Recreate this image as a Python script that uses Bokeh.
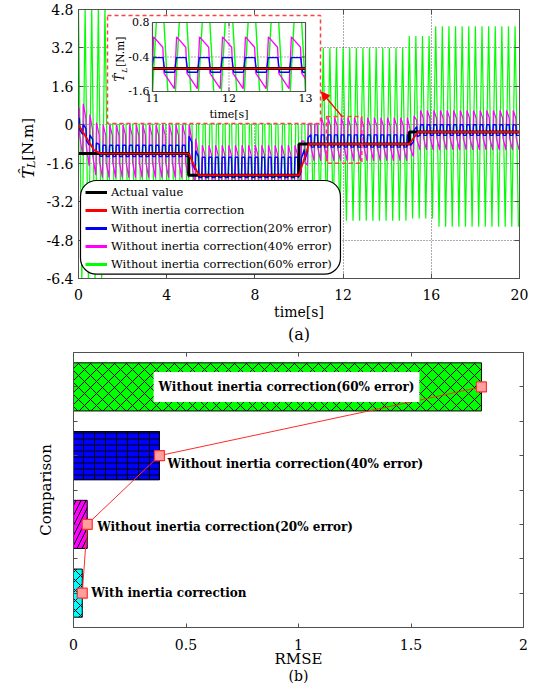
import numpy as np
from bokeh.plotting import figure
from bokeh.layouts import column, row
from bokeh.models import (Range1d, FixedTicker, LinearAxis, CustomJSTickFormatter,
                          Legend, LegendItem, BoxAnnotation, Label, Arrow, NormalHead, Title)
from bokeh.core.properties import value
from bokeh.embed import file_html
from bokeh.resources import INLINE

SERIF = "DejaVu Serif"
AXIS_GREY = "#505050"

# ---------------- load torque test: 20 s run, load stepped every 5 s ----------------
step_times = [0.0, 5.0, 10.0, 15.0, 20.0]
actual_torque = [-1.2, -2.1, -0.8, -0.3]
ripple_period = 0.3

# observer with inertia correction (follows each step with a short lag)
corrected_t = [0.0, 0.7, 1.0, 5.0, 5.45, 10.0, 10.45, 15.0, 15.4, 20.0]
corrected_v = [0.0, -1.05, -1.2, -1.2, -2.1, -2.1, -0.8, -0.8, -0.3, -0.3]

# observers without correction: upper / lower ripple plateaus per load interval
err20_high = [-0.85, -1.35, -0.42, 0.0]
err20_low = [-1.32, -2.2, -0.93, -0.44]
err40_high = [0.0, -0.85, 0.3, 0.6]
err40_low = [-2.2, -2.9, -1.5, -1.05]
err60_times = [0.0, 1.3, 5.0, 10.0, 15.0, 16.2, 20.0]
err60_high = [4.9, 3.0, 2.6, 3.2, 3.7, 4.1]
err60_low = [-6.6, -5.0, -5.6, -4.0, -3.9, -4.25]

# ---------------- RMSE comparison ----------------
methods = ["With inertia correction",
           "Without inertia correction(20% error)",
           "Without inertia correction(40% error)",
           "Without inertia correction(60% error)"]
rmse = [0.039, 0.061, 0.382, 1.813]
bar_pos = [1, 2, 3, 4]

# ripple shape within one period: (fraction of period, position between low and high plateau)
shape_20 = [(0.04, 1.0), (0.46, 1.0), (0.54, 0.0), (0.96, 0.0)]
shape_40 = [(0.05, 1.0), (0.45, 0.8), (0.50, 0.3), (0.95, 0.0)]
shape_60 = [(0.0, 1.0), (0.5, 0.0)]


def ripple_trace(shape, high, low, edges, phase, follow_observer):
    ts, vs = [], []
    n0 = int(np.floor(-phase / ripple_period)) - 1
    n1 = int(np.ceil((20.0 - phase) / ripple_period)) + 1
    for k in range(n0, n1):
        t0 = phase + k * ripple_period
        for frac, w in shape:
            t = t0 + frac * ripple_period
            if t < 0 or t > 20.0:
                continue
            s = min(int(np.searchsorted(edges, t, side="right")) - 1, len(high) - 1)
            v = low[s] + w * (high[s] - low[s])
            if follow_observer:
                v += np.interp(t, corrected_t, corrected_v) - actual_torque[s]
            ts.append(t)
            vs.append(v)
    return np.array(ts), np.array(vs)


def clip_polyline(xs, ys, x0, x1, y0, y1):
    """Cut a polyline to a rectangle, breaking it with NaNs where it leaves."""
    ox, oy = [], []
    for i in range(len(xs) - 1):
        ax, ay, bx, by = xs[i], ys[i], xs[i + 1], ys[i + 1]
        dx, dy = bx - ax, by - ay
        lo, hi = 0.0, 1.0
        keep = True
        for p, q in ((-dx, ax - x0), (dx, x1 - ax), (-dy, ay - y0), (dy, y1 - ay)):
            if p == 0:
                if q < 0:
                    keep = False
                    break
                continue
            r = q / p
            if p < 0:
                lo = max(lo, r)
            else:
                hi = min(hi, r)
        if not keep or lo > hi:
            if ox and not np.isnan(ox[-1]):
                ox.append(np.nan)
                oy.append(np.nan)
            continue
        sx, sy = ax + lo * dx, ay + lo * dy
        ex, ey = ax + hi * dx, ay + hi * dy
        if not ox or np.isnan(ox[-1]) or abs(ox[-1] - sx) > 1e-9 or abs(oy[-1] - sy) > 1e-9:
            if ox and not np.isnan(ox[-1]):
                ox.append(np.nan)
                oy.append(np.nan)
            ox.append(sx)
            oy.append(sy)
        ox.append(ex)
        oy.append(ey)
    return np.array(ox), np.array(oy)


act_t = np.repeat(step_times, 2)[1:-1]
act_v = np.repeat(actual_torque, 2)
t20, v20 = ripple_trace(shape_20, err20_high, err20_low, step_times, 0.2, True)
t40, v40 = ripple_trace(shape_40, err40_high, err40_low, step_times, 0.2, True)
t60, v60 = ripple_trace(shape_60, err60_high, err60_low, err60_times, 0.3, False)

BLACK, RED, BLUE, MAGENTA, GREEN = "#000000", "#ff0000", "#0000ff", "#ff00ff", "#00ff00"


def style_axis(ax, ticker, size, standoff, fmt, tick_len):
    ax.ticker = ticker
    ax.formatter = fmt
    ax.axis_line_color = AXIS_GREY
    ax.major_tick_line_color = AXIS_GREY
    ax.major_tick_in = tick_len
    ax.major_tick_out = 0
    ax.minor_tick_line_color = None
    ax.major_label_text_font = SERIF
    ax.major_label_text_font_size = size
    ax.major_label_text_color = "black"
    ax.major_label_standoff = standoff
    ax.axis_label_text_font = SERIF
    ax.axis_label_text_font_style = "normal"
    ax.axis_label_text_color = "black"


def mirror_axis(fig, ticker, side, tick_len):
    ax = LinearAxis(ticker=ticker, formatter=CustomJSTickFormatter(code="return ''"),
                    axis_line_color=AXIS_GREY, major_tick_line_color=AXIS_GREY,
                    major_tick_in=tick_len, major_tick_out=0, minor_tick_line_color=None,
                    major_label_standoff=0, major_label_text_font_size="0px")
    fig.add_layout(ax, side)


# ================= (a) estimated load torque =================
LAB_W = 40
TOP_H = 345
torque_range = Range1d(-6.4, 4.8)
top = figure(width=537 - LAB_W, height=TOP_H, x_range=Range1d(0, 20), y_range=torque_range,
             output_backend="svg", toolbar_location=None,
             min_border_left=78 - LAB_W, min_border_right=18, min_border_top=9,
             min_border_bottom=67, background_fill_color="white", border_fill_color="white")
top.outline_line_color = AXIS_GREY
xt = FixedTicker(ticks=[0, 4, 8, 12, 16, 20])
yt = FixedTicker(ticks=[-6.4, -4.8, -3.2, -1.6, 0, 1.6, 3.2, 4.8])
style_axis(top.xaxis[0], xt, "14px", 10, CustomJSTickFormatter(code="return String(tick)"), 5)
style_axis(top.yaxis[0], yt, "14px", 5,
           CustomJSTickFormatter(code="return tick == 0 ? '0' : tick.toFixed(1)"), 5)
top.xaxis[0].axis_label = "time[s]"
top.xaxis[0].axis_label_text_font_size = "14px"
top.xaxis[0].axis_label_standoff = 1
mirror_axis(top, xt, "above", 5)
mirror_axis(top, yt, "right", 5)
for g, tk in ((top.xgrid[0], xt), (top.ygrid[0], yt)):
    g.ticker = tk
    g.grid_line_color = "#303030"
    g.grid_line_dash = "1 2"
    g.grid_line_alpha = 0.8

top.line(t60, v60, line_color=GREEN, line_width=1.2)
top.line(t40, v40, line_color=MAGENTA, line_width=1.2)
top.line(t20, v20, line_color=BLUE, line_width=1.4)
top.line(act_t, act_v, line_color=BLACK, line_width=3)
top.line(corrected_t, corrected_v, line_color=RED, line_width=1.8)

# region magnified in the inset
DASH_RED = "#ff4040"
top.quad(left=11.25, right=12.85, bottom=-1.6, top=0.35, fill_color=None,
         line_color=DASH_RED, line_dash="4 3", line_width=1.5)
# inset panel background
top.quad(left=1.315, right=10.975, bottom=0.055, top=4.55, fill_color="white",
         line_color=DASH_RED, line_dash="4 3", line_width=1.5)

ins_x = (11.0, 13.0)
ins_y = (-1.6, 0.8)
inset = top.subplot(x_source=Range1d(*ins_x), y_source=Range1d(*ins_y),
                    x_target=Range1d(3.356, 10.295), y_target=Range1d(1.386, 4.259))
ins_xticks = [11, 12, 13]
ins_yticks = [-1.6, -0.4, 0.8]
inset.segment(x0=[12], y0=[ins_y[0]], x1=[12], y1=[ins_y[1]], line_color="#303030",
              line_dash="1 2", line_alpha=0.8)
inset.segment(x0=[ins_x[0]], y0=[-0.4], x1=[ins_x[1]], y1=[-0.4], line_color="#303030",
              line_dash="1 2", line_alpha=0.8)
for (tt, vv, col, lw) in ((t60, v60, GREEN, 1.4), (t40, v40, MAGENTA, 1.3),
                          (t20, v20, BLUE, 1.3), (act_t, act_v, BLACK, 3.0),
                          (np.array(corrected_t), np.array(corrected_v), RED, 1.6)):
    cx, cy = clip_polyline(tt, vv, ins_x[0], ins_x[1], ins_y[0], ins_y[1])
    inset.line(cx, cy, line_color=col, line_width=lw)
inset.quad(left=[ins_x[0]], right=[ins_x[1]], bottom=[ins_y[0]], top=[ins_y[1]],
           fill_color=None, line_color=AXIS_GREY, line_width=1.2)
inset.ray(x=ins_xticks, y=[ins_y[0]] * 3, length=4, length_units="screen", angle=np.pi / 2,
          line_color=AXIS_GREY)
inset.ray(x=ins_xticks, y=[ins_y[1]] * 3, length=4, length_units="screen", angle=-np.pi / 2,
          line_color=AXIS_GREY)
inset.ray(x=[ins_x[0]] * 3, y=ins_yticks, length=4, length_units="screen", angle=0,
          line_color=AXIS_GREY)
inset.ray(x=[ins_x[1]] * 3, y=ins_yticks, length=4, length_units="screen", angle=np.pi,
          line_color=AXIS_GREY)
inset.text(x=[ins_x[0]] * 3, y=ins_yticks, text=[f"{v:.1f}" for v in ins_yticks],
           x_offset=-3, text_align="right", text_baseline="middle",
           text_font=value(SERIF), text_font_size="11px", text_color="black")
inset.text(x=ins_xticks, y=[ins_y[0]] * 3, text=[str(v) for v in ins_xticks],
           y_offset=3, text_align="center", text_baseline="top",
           text_font=value(SERIF), text_font_size="11px", text_color="black")
inset.text(x=[12], y=[ins_y[0]], text=["time[s]"], y_offset=17, text_align="center",
           text_baseline="top", text_font=value(SERIF), text_font_size="11px",
           text_color="black")
inset.text(x=[ins_x[0]], y=[-1.25], text=["T\u0302"], x_offset=-32, angle=np.pi / 2,
           text_align="left", text_baseline="middle", text_font=value(SERIF),
           text_font_style="italic", text_font_size="12px", text_color="black")
inset.text(x=[ins_x[0]], y=[-0.95], text=["L"], x_offset=-28, angle=np.pi / 2,
           text_align="left", text_baseline="middle", text_font=value(SERIF),
           text_font_style="italic", text_font_size="8px", text_color="black")
inset.text(x=[ins_x[0]], y=[-0.74], text=["[N.m]"], x_offset=-32, angle=np.pi / 2,
           text_align="left", text_baseline="middle", text_font=value(SERIF),
           text_font_size="10.5px", text_color="black")

top.add_layout(Arrow(end=NormalHead(size=8, fill_color=RED, line_color=RED),
                     x_start=11.95, y_start=0.35, x_end=11.02, y_end=1.36,
                     line_color=RED, line_width=1.5))

# rounded legend frame
top.add_layout(BoxAnnotation(left=0.09, right=11.88, top=-2.32, bottom=-6.22,
                             fill_color="white", fill_alpha=1.0, line_color="black",
                             line_width=1.2, line_alpha=1.0, line_dash="solid",
                             border_radius=16))
legend_colors = [BLACK, RED, BLUE, MAGENTA, GREEN]
legend_labels = ["Actual value"] + methods
items = []
for lab, col in zip(legend_labels, legend_colors):
    r = top.line(x=[np.nan], y=[np.nan], line_color=col, line_width=3)
    items.append(LegendItem(label=lab, renderers=[r]))
leg = Legend(items=items, location=(7, 6), padding=0, spacing=2, glyph_width=22,
             glyph_height=16, label_height=16, label_standoff=4,
             label_text_font=SERIF, label_text_font_size="11.5px", label_text_color="black",
             border_line_color=None, background_fill_alpha=0.0, margin=0)
top.add_layout(leg, "center")
top.add_layout(Title(text="(a)", align="center", text_font=SERIF, text_font_size="16px",
                     text_font_style="normal", text_color="black", standoff=0), "below")

# rotated axis title T-hat_L [N.m] in its own narrow panel, same vertical scale as (a)
ylab = figure(width=LAB_W, height=TOP_H, x_range=Range1d(0, LAB_W), y_range=torque_range,
              output_backend="svg", toolbar_location=None,
              min_border_left=0, min_border_right=0, min_border_top=9, min_border_bottom=67,
              x_axis_location=None, y_axis_location=None,
              background_fill_color="white", border_fill_color="white")
ylab.outline_line_color = None
ylab.grid.visible = False
ylab.text(x=[27], y=[-2.24], text=["T\u0302"], angle=np.pi / 2, text_align="left",
          text_baseline="middle", text_font=value(SERIF), text_font_style="italic",
          text_font_size="17px", text_color="black")
ylab.text(x=[31], y=[-1.80], text=["L"], angle=np.pi / 2, text_align="left",
          text_baseline="middle", text_font=value(SERIF), text_font_style="italic",
          text_font_size="11px", text_color="black")
ylab.text(x=[27], y=[-1.50], text=["[N.m]"], angle=np.pi / 2, text_align="left",
          text_baseline="middle", text_font=value(SERIF), text_font_size="15px",
          text_color="black")

# ================= (b) RMSE comparison =================
bot = figure(width=537, height=344, x_range=Range1d(0, 2), y_range=Range1d(0.5, 4.5),
             output_backend="svg", toolbar_location=None,
             min_border_left=73, min_border_right=14, min_border_top=7, min_border_bottom=62,
             background_fill_color="white", border_fill_color="white")
bot.outline_line_color = AXIS_GREY
bot.grid.visible = False
bxt = FixedTicker(ticks=[0, 0.5, 1, 1.5, 2])
byt = FixedTicker(ticks=[1, 1.5, 2, 2.5, 3, 3.5, 4])
style_axis(bot.xaxis[0], bxt, "14px", 11, CustomJSTickFormatter(code="return String(tick)"), 4)
style_axis(bot.yaxis[0], byt, "0px", 0, CustomJSTickFormatter(code="return ''"), 4)
bot.xaxis[0].axis_label = "RMSE"
bot.xaxis[0].axis_label_text_font_size = "15px"
bot.xaxis[0].axis_label_standoff = -3
bot.yaxis[0].axis_label = "Comparison"
bot.yaxis[0].axis_label_text_font_size = "15px"
bot.yaxis[0].axis_label_standoff = 19
mirror_axis(bot, bxt, "above", 4)
mirror_axis(bot, byt, "right", 4)

bar_fill = ["#00ffff", "#ff00ff", "#0000ff", "#00ff00"]
bar_hatch = ["diagonal_cross", "right_diagonal_line", "horizontal_line", "diagonal_cross"]
bar_hatch_scale = [10, 10, 6, 12]
for i in range(len(rmse)):
    bot.hbar(y=[bar_pos[i]], left=0, right=[rmse[i]], height=0.7, fill_color=bar_fill[i],
             line_color="black", line_width=1, hatch_pattern=bar_hatch[i],
             hatch_color="black", hatch_scale=bar_hatch_scale[i], hatch_weight=1)
# vertical rules complete the grid pattern of the 40% bar
bot.hbar(y=[bar_pos[2]], left=0, right=[rmse[2]], height=0.7, fill_color=None,
         line_color="black", line_width=1, hatch_pattern="vertical_line",
         hatch_color="black", hatch_scale=11, hatch_weight=1)

bot.line(rmse, bar_pos, line_color="#ff2a2a", line_width=1)
bot.scatter(rmse, bar_pos, marker="square", size=10, fill_color="#ff9e9e",
            line_color="#ff3030", line_width=1.2)

label_x = [rmse[0], rmse[1], rmse[2], 0.356]
label_dx = [9, 10, 8, 0]
label_dy = [0, -3, -8, 0]
for i in range(len(methods)):
    kw = {}
    if i == 3:
        kw = dict(background_fill_color="white", background_fill_alpha=1.0, padding=(5, 8))
    bot.add_layout(Label(x=label_x[i], y=bar_pos[i], x_offset=label_dx[i], y_offset=label_dy[i],
                         text=methods[i], text_align="left", text_baseline="middle",
                         text_font=SERIF, text_font_style="bold", text_font_size="12px",
                         text_color="black", **kw))
bot.add_layout(Title(text="(b)", align="center", text_font=SERIF, text_font_size="14px",
                     text_font_style="normal", text_color="black", standoff=-10), "below")

layout = column(row(ylab, top, spacing=0), bot, spacing=0)
open("out.html", "w").write(file_html(layout, INLINE))
